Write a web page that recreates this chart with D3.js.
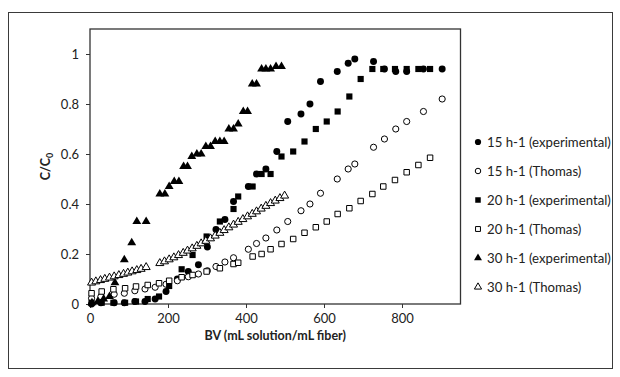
<!DOCTYPE html>
<html><head><meta charset="utf-8">
<script src="https://cdnjs.cloudflare.com/ajax/libs/d3/7.8.5/d3.min.js"></script>
<style>
html,body{margin:0;padding:0;background:#fff;}
text{font-family:Lato,"Open Sans",sans-serif;fill:#222;}
</style></head>
<body><svg id="c" width="620" height="377"></svg>
<script>
// ---- data ----
const x15 = [4, 28, 62, 88, 115, 141, 167, 195, 224, 252, 278, 301, 323, 346, 368, 406, 427, 451, 479, 507, 541, 564, 591, 634, 662, 679, 727, 755, 784, 812, 855, 903];
const y15exp = [0, 0.005, 0.005, 0.005, 0.01, 0.01, 0.02, 0.05, 0.10, 0.13, 0.157, 0.228, 0.298, 0.338, 0.41, 0.47, 0.52, 0.54, 0.61, 0.73, 0.76, 0.80, 0.89, 0.93, 0.963, 0.98, 0.97, 0.94, 0.93, 0.93, 0.94, 0.94];
const y15th = [0.023, 0.03, 0.039, 0.043, 0.053, 0.06, 0.067, 0.079, 0.093, 0.109, 0.12, 0.133, 0.15, 0.168, 0.185, 0.219, 0.242, 0.264, 0.296, 0.33, 0.373, 0.40, 0.443, 0.50, 0.54, 0.56, 0.627, 0.66, 0.70, 0.73, 0.77, 0.82];

const x20 = [4, 30, 60, 90, 118, 148, 177, 203, 235, 263, 299, 333, 368, 380, 417, 440, 463, 491, 521, 550, 579, 607, 635, 665, 694, 724, 752, 782, 812, 842, 872];
const y20exp = [0.005, 0.005, 0.005, 0.005, 0.01, 0.02, 0.03, 0.072, 0.139, 0.196, 0.27, 0.33, 0.38, 0.43, 0.47, 0.52, 0.52, 0.59, 0.61, 0.65, 0.70, 0.73, 0.77, 0.83, 0.90, 0.94, 0.94, 0.94, 0.94, 0.94, 0.94];
const y20th = [0.043, 0.05, 0.059, 0.063, 0.07, 0.076, 0.083, 0.093, 0.107, 0.116, 0.13, 0.143, 0.16, 0.165, 0.19, 0.20, 0.219, 0.24, 0.26, 0.285, 0.307, 0.33, 0.36, 0.383, 0.412, 0.44, 0.47, 0.496, 0.527, 0.556, 0.585];

const x30exp = [5, 20, 35, 50, 64, 88, 107, 120, 144, 179, 192, 203, 216, 228, 240, 250, 261, 274, 285, 297, 309, 321, 333, 344, 356, 368, 380, 393, 404, 416, 427, 440, 451, 463, 477, 491];
const y30exp = [0.005, 0.01, 0.02, 0.03, 0.085, 0.177, 0.245, 0.33, 0.33, 0.44, 0.44, 0.47, 0.49, 0.49, 0.55, 0.55, 0.59, 0.60, 0.60, 0.63, 0.63, 0.65, 0.65, 0.65, 0.70, 0.70, 0.72, 0.77, 0.77, 0.88, 0.88, 0.94, 0.94, 0.94, 0.95, 0.95];
const x30th = [4, 15, 27, 38, 50, 62, 74, 86, 97, 108, 120, 131, 144, 179, 191, 203, 215, 227, 239, 250, 262, 274, 285, 297, 309, 321, 333, 344, 356, 368, 380, 392, 404, 416, 427, 439, 451, 463, 475, 487, 499];
const y30th = [0.085, 0.09, 0.095, 0.10, 0.105, 0.11, 0.115, 0.12, 0.125, 0.13, 0.135, 0.14, 0.147, 0.163, 0.17, 0.178, 0.186, 0.195, 0.204, 0.213, 0.222, 0.232, 0.242, 0.252, 0.262, 0.273, 0.284, 0.295, 0.306, 0.317, 0.328, 0.339, 0.35, 0.36, 0.37, 0.381, 0.392, 0.403, 0.413, 0.423, 0.433];

const seriesNames = ["15 h-1 (experimental)", "15 h-1 (Thomas)", "20 h-1 (experimental)", "20 h-1 (Thomas)", "30 h-1 (experimental)", "30 h-1 (Thomas)"];
const xTicks = [0, 200, 400, 600, 800];
const yTicks = [0, 0.2, 0.4, 0.6, 0.8, 1];
const xTitle = "BV (mL solution/mL fiber)";

// ---- chart ----
const svg = d3.select("#c");
const L = 90, T = 29, B = 304;
const x = d3.scaleLinear().domain([0, 950]).range([L, L + 0.39 * 950]);
const y = d3.scaleLinear().domain([0, 1.1]).range([B, T]);
const R = x(950);

// outer border
svg.append("rect").attr("x", 8.5).attr("y", 12.5).attr("width", 604).attr("height", 356)
  .attr("fill", "none").attr("stroke", "#3a3a3a").attr("stroke-width", 1);

// plot frame
svg.append("rect").attr("x", L).attr("y", T).attr("width", R - L).attr("height", B - T)
  .attr("fill", "none").attr("stroke", "#333").attr("stroke-width", 1.3);

const gx = svg.append("g").attr("transform", `translate(0,${B})`)
  .call(d3.axisBottom(x).tickValues(xTicks).tickSize(4).tickPadding(6).tickFormat(d3.format("d")));
const gy = svg.append("g").attr("transform", `translate(${L},0)`)
  .call(d3.axisLeft(y).tickValues(yTicks).tickSize(4).tickPadding(7).tickFormat(d => d === 0 ? "0" : d === 1 ? "1" : d3.format(".1f")(d)));
[gx, gy].forEach(g => {
  g.select(".domain").remove();
  g.selectAll(".tick line").attr("stroke", "#333");
  g.selectAll("text").attr("font-size", 13).attr("fill", "#333").style("font-family", "Lato, sans-serif");
});

// titles
svg.append("text").attr("x", (L + R) / 2).attr("y", 340).attr("text-anchor", "middle")
  .attr("font-size", 12.5).attr("font-weight", "bold").text(xTitle);
const yt = svg.append("text").attr("transform", `translate(50,${(T + B) / 2}) rotate(-90)`)
  .attr("text-anchor", "middle").attr("font-size", 12.5).attr("font-weight", "bold");
yt.append("tspan").text("C/C");
yt.append("tspan").attr("font-size", 9).attr("dy", 3).text("0");

// series
const sym = (type, size) => d3.symbol().type(type).size(size)();
const styles = [
  {type: d3.symbolCircle, size: 38, fill: "#000"},
  {type: d3.symbolCircle, size: 30, fill: "#fff"},
  {type: d3.symbolSquare, size: 38, fill: "#000"},
  {type: d3.symbolSquare, size: 30, fill: "#fff"},
  {type: d3.symbolTriangle, size: 34, fill: "#000"},
  {type: d3.symbolTriangle, size: 28, fill: "#fff"}
];
const series = [
  {xs: x15, ys: y15exp}, {xs: x15, ys: y15th},
  {xs: x20, ys: y20exp}, {xs: x20, ys: y20th},
  {xs: x30exp, ys: y30exp}, {xs: x30th, ys: y30th}
];
series.forEach((s, i) => {
  const st = styles[i];
  const pts = s.xs.map((v, j) => [v, s.ys[j]]);
  svg.append("g").selectAll("path").data(pts).join("path")
    .attr("d", sym(st.type, st.size))
    .attr("transform", d => `translate(${x(d[0])},${y(d[1])})`)
    .attr("fill", st.fill).attr("stroke", "#000").attr("stroke-width", st.fill === "#fff" ? 1 : 0);
});

// legend
const lg = svg.append("g");
seriesNames.forEach((name, i) => {
  const st = styles[i];
  const cy = 142 + i * 29;
  lg.append("path").attr("d", sym(st.type, st.size * 0.8))
    .attr("transform", `translate(478,${cy})`)
    .attr("fill", st.fill).attr("stroke", "#000").attr("stroke-width", st.fill === "#fff" ? 1 : 0);
  lg.append("text").attr("x", 487).attr("y", cy + 4.8).attr("font-size", 13.2).text(name);
});
</script></body></html>
